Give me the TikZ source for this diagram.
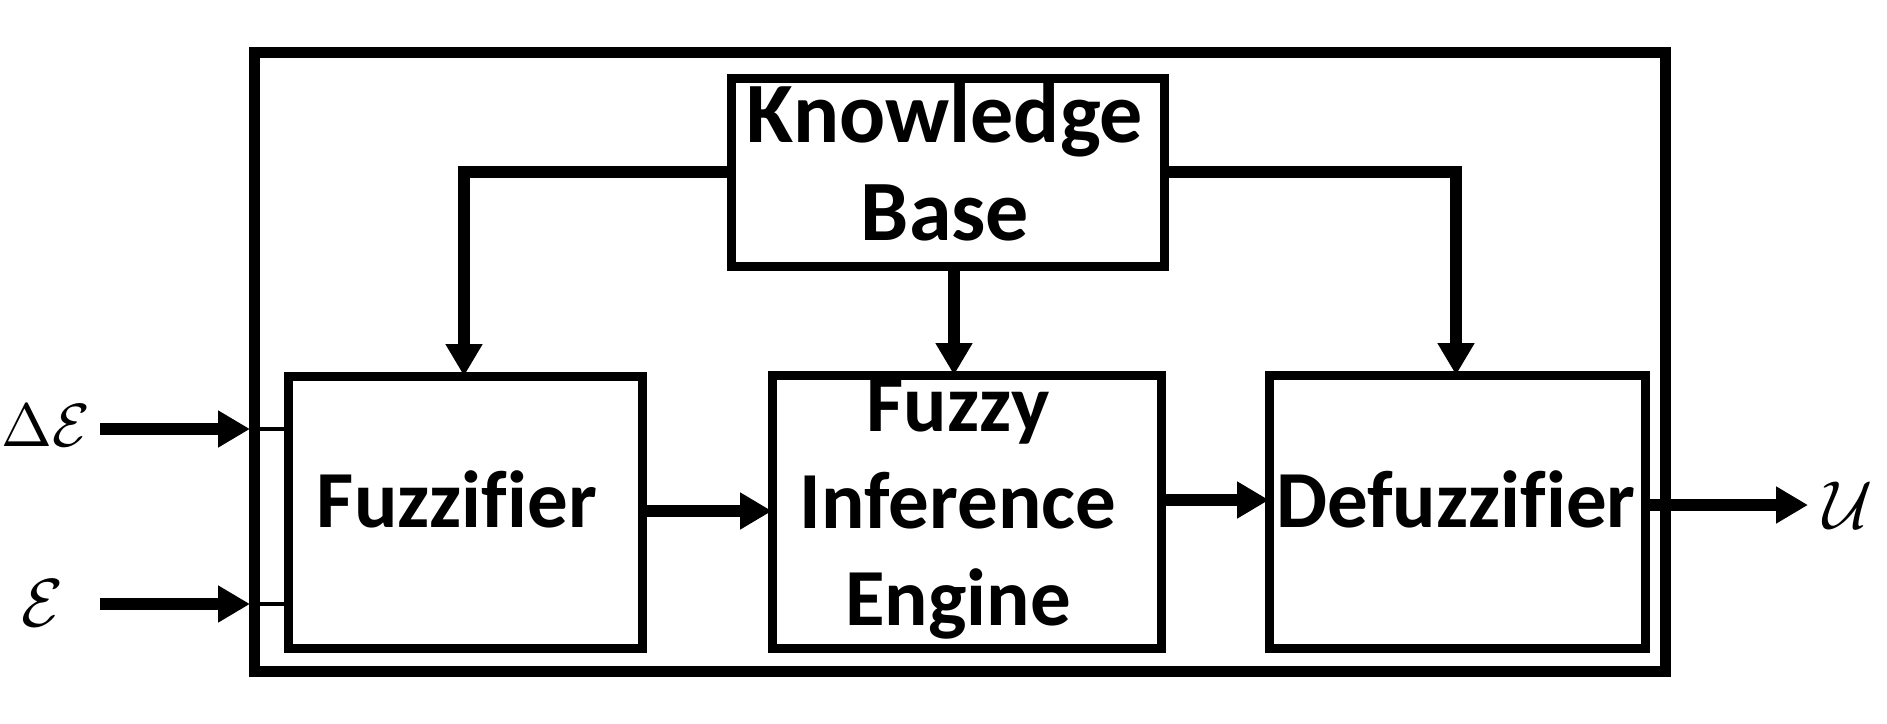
\documentclass[tikz,border=0pt]{standalone}
\usepackage{fontspec}
\setmainfont[Ligatures={NoCommon}]{Carlito}
\usetikzlibrary{arrows.meta}
\newcommand{\bigmath}[2][6.8]{\scalebox{#1}{$#2$}}
\begin{document}
\begin{tikzpicture}[x=1pt,y=-1pt,
  box/.style={draw, line width=9pt, inner sep=0pt, outer sep=0pt, minimum width=#1},
  lbl/.style={font=\fontsize{81}{97}\selectfont\bfseries, align=center, inner sep=0pt},
  kblbl/.style={font=\fontsize{86}{98}\selectfont\bfseries, align=center, inner sep=0pt},
  mlbl/.style={inner sep=0pt},
  conn/.style={line width=12pt, -{Triangle[width=35pt,length=32pt]}},
  thin/.style={line width=4pt}]
\useasboundingbox (0,0) rectangle (1887,723);
% outer frame
\node[draw, line width=11pt, inner sep=0pt, minimum width=1411pt, minimum height=619pt] (frame) at (959.5,361.5) {};
% blocks
\node[box=433pt, minimum height=188pt] (kb) at (947.5,172) {};
\node[kblbl, anchor=base] (kbt) at (945,240) {Knowledge\\Base};
\node[box=354pt, minimum height=272pt] (fuz) at (465,512) {};
\node[lbl, anchor=base] (fuzt) at (457,527) {Fuzzifier};
\node[box=389pt, minimum height=273pt] (inf) at (966.5,511.5) {};
\node[lbl, anchor=base] (inft) at (958,625) {Fuzzy\\Inference\\Engine};
\node[box=376pt, minimum height=273pt] (def) at (1457,511.5) {};
\node[lbl, anchor=base] (deft) at (1456,527) {Defuzzifier};
% inputs / output labels
\node[mlbl] (de) at (46,426) {\bigmath[6.1]{\Delta\mathcal{E}}};
\node[mlbl] (e) at (42,603) {\bigmath{\mathcal{E}}};
\node[mlbl] (u) at (1848,505) {\bigmath{\mathcal{U}}};
\coordinate (de0) at (100,429);
\coordinate (e0) at (100,604);
\coordinate (fr1) at (250,429);
\coordinate (fr2) at (250,604);
\coordinate (uo) at (1808,505);
% knowledge base connectors
\draw[conn] (kb.west |- 0,172) -| (fuz.north -| 464,0);
\draw[conn] (kb.south -| 954,0) -- (inf.north -| 954,0);
\draw[conn] (kb.east |- 0,172) -| (def.north -| 1456,0);
% main chain
\draw[conn] (fuz.east |- 0,511) -- (inf.west |- 0,511);
\draw[conn] (inf.east |- 0,500) -- (def.west |- 0,500);
\draw[conn] (def.east |- 0,505) -- (uo);
% inputs
\draw[conn] (de0) -- (fr1);
\draw[conn] (e0) -- (fr2);
\draw[thin] (fr1) -- (fuz.west |- fr1);
\draw[thin] (fr2) -- (fuz.west |- fr2);
\end{tikzpicture}
\end{document}
